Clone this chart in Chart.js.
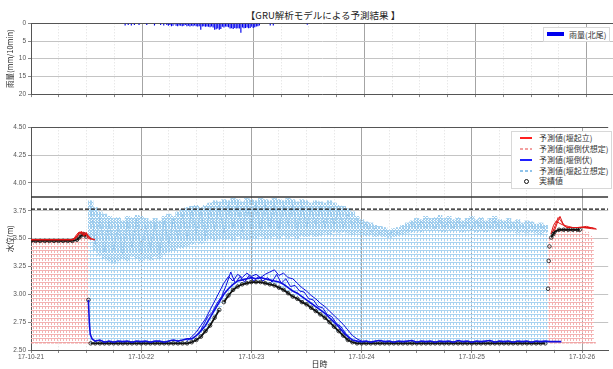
<!DOCTYPE html>
<html>
<head>
<meta charset="utf-8">
<script src="https://cdn.jsdelivr.net/npm/chart.js"></script>
<style>
  html, body { margin: 0; padding: 0; background: #fff; width: 613px; height: 369px; overflow: hidden; }
  canvas { position: absolute; left: 0; }
  #title { position: absolute; left: 223px; width: 200px; top: 8px; text-align: center;
           font: 9.5px 'Noto Sans CJK JP', sans-serif; color: #222; white-space: nowrap; }
  .legend { position: absolute; background: #fff; border: 1px solid #d8d8d8; z-index: 2;
            font: 8px 'Noto Sans CJK JP', sans-serif; color: #333; }
  .legend div { position: absolute; white-space: nowrap; }
  .sw { height: 1.5px; width: 12px; }
</style>
</head>
<body>
<div id="title">【GRU解析モデルによる予測結果 】</div>
<canvas id="rain" width="613" height="100" style="top:0;width:613px;height:100px"></canvas>
<canvas id="level" width="613" height="259" style="top:110px;width:613px;height:259px"></canvas>

<div class="legend" style="left:543px;top:27px;width:65px;height:13px">
  <div style="left:3px;top:4px;width:17px;height:4px;background:#0000ee"></div>
  <div style="left:25px;top:0px;line-height:13px">雨量(北尾)</div>
</div>
<div class="legend" style="left:511px;top:131px;width:99px;height:56px">
  <div class="sw" style="left:8px;top:5px;background:#ff2020"></div>
  <div style="left:27px;top:0px;line-height:11px">予測値(堰起立)</div>
  <div class="sw" style="left:8px;top:16px;background:repeating-linear-gradient(90deg,#f3a0a0 0 3px,transparent 3px 5px)"></div>
  <div style="left:27px;top:11px;line-height:11px">予測値(堰倒伏想定)</div>
  <div class="sw" style="left:8px;top:27px;background:#2020ff"></div>
  <div style="left:27px;top:22px;line-height:11px">予測値(堰倒伏)</div>
  <div class="sw" style="left:8px;top:38px;background:repeating-linear-gradient(90deg,#8fc3ea 0 3px,transparent 3px 5px)"></div>
  <div style="left:27px;top:33px;line-height:11px">予測値(堰起立想定)</div>
  <div style="left:12px;top:47px;width:3px;height:3px;border:1px solid #111;border-radius:50%"></div>
  <div style="left:27px;top:43px;line-height:11px">実績値</div>
</div>

<script>
// time axis in hours from 17-10-21 00:00
const xMax = 125.7;
const dayLabels = ["17-10-21", "17-10-22", "17-10-23", "17-10-24", "17-10-25", "17-10-26"];
const hourTicks = [0, 6, 12, 18, 24, 30, 36, 42, 48, 54, 60, 66, 72, 78, 84, 90, 96, 102, 108, 114, 120];
const levelTicks = [2.5, 2.75, 3.0, 3.25, 3.5, 3.75, 4.0, 4.25, 4.5];
const rainTicks = [0, 5, 10, 15, 20];

// rainfall (mm/10min), 北尾
const rainTime = [
  20.33, 21.0, 21.67, 22.33, 23.33, 25.0, 26.67, 28.0, 28.67, 29.33,
  29.67, 30.0, 30.33, 30.67, 31.0, 31.33, 31.67, 32.0, 32.33, 32.67,
  33.0, 33.33, 33.67, 34.0, 34.33, 34.67, 35.0, 35.33, 35.67, 36.0,
  36.33, 36.67, 37.0, 37.33, 37.67, 38.0, 38.33, 38.67, 39.0, 39.33,
  39.67, 40.0, 40.33, 40.67, 41.0, 41.33, 41.67, 42.0, 42.33, 42.67,
  43.0, 43.33, 43.67, 44.0, 44.33, 44.67, 45.0, 45.33, 45.67, 46.0,
  46.33, 46.67, 47.0, 47.33, 47.67, 48.0, 48.33, 48.67, 49.0, 49.33,
  51.67, 52.33, 59.67
];
const rainValue = [
  0.6, 0.5, 0.6, 0.5, 0.5, 0.5, 0.6, 0.5, 0.6, 0.5,
  0.7, 0.5, 0.8, 0.7, 0.3, 0.7, 0.8, 0.6, 0.7, 0.8,
  0.7, 0.5, 0.8, 0.7, 0.9, 0.7, 0.8, 0.6, 0.8, 0.9,
  0.8, 1.8, 0.9, 0.8, 1.0, 0.9, 1.0, 1.1, 0.9, 1.2,
  1.8, 1.7, 1.5, 1.8, 1.6, 1.0, 1.2, 0.9, 1.0, 1.1,
  1.5, 1.4, 1.6, 1.3, 1.5, 1.4, 1.5, 2.7, 1.2, 1.4,
  1.3, 1.2, 1.4, 1.3, 1.0, 1.3, 1.1, 0.9, 0.8, 0.6,
  0.6, 0.6, 0.4
];

// observed water level (m)
const obsTime = [
  0, 1, 2, 3, 4, 5, 6, 7, 8, 9, 10, 10.5, 11, 11.5, 12, 12.5,
  13, 14, 15, 16, 17, 18, 19, 20, 21, 22, 23, 24, 25, 26, 27, 28, 29, 30, 31, 32, 33, 34,
  35, 36, 37, 38, 39, 40, 41, 42, 43, 44, 45, 46, 47, 48, 49, 50, 51, 52,
  53, 54, 55, 56, 57, 58, 59, 60, 61, 62, 63, 64, 65, 66, 67, 68, 69, 70,
  71, 72, 73, 74, 75, 76, 77, 78, 79, 80, 81, 82, 83, 84, 85, 86, 87, 88, 89, 90, 91,
  92, 93, 94, 95, 96, 97, 98, 99, 100, 101, 102, 103, 104, 105, 106, 107, 108, 109, 110, 111, 112,
  112.6, 112.75, 112.9, 113.3, 113.7, 114, 115, 116, 117, 118, 119, 119.5
];
const obsLevel = [
  3.48, 3.48, 3.48, 3.48, 3.48, 3.48, 3.48, 3.48, 3.48, 3.48, 3.49, 3.51, 3.53, 3.54, 3.52, 2.95,
  2.56, 2.56, 2.56, 2.56, 2.56, 2.56, 2.56, 2.56, 2.56, 2.56, 2.56, 2.56, 2.56, 2.56, 2.56, 2.56, 2.56, 2.56, 2.56, 2.56, 2.56, 2.56,
  2.57, 2.59, 2.62, 2.67, 2.72, 2.79, 2.86, 2.93, 2.99, 3.04, 3.07, 3.09, 3.10, 3.11, 3.11, 3.11, 3.10, 3.09,
  3.08, 3.06, 3.04, 3.01, 2.98, 2.96, 2.93, 2.91, 2.88, 2.85, 2.82, 2.79, 2.75, 2.71, 2.67, 2.63, 2.59, 2.57,
  2.56, 2.56, 2.56, 2.56, 2.56, 2.56, 2.56, 2.56, 2.56, 2.56, 2.56, 2.56, 2.56, 2.56, 2.56, 2.56, 2.56, 2.56, 2.56, 2.56, 2.56,
  2.56, 2.56, 2.56, 2.56, 2.56, 2.56, 2.56, 2.56, 2.56, 2.56, 2.56, 2.56, 2.56, 2.56, 2.56, 2.56, 2.56, 2.56, 2.56, 2.56, 2.56,
  3.05, 3.30, 3.43, 3.51, 3.54, 3.56, 3.58, 3.58, 3.58, 3.58, 3.58, 3.58
];

// forecast, weir standing (red)
const redATime = [0, 1, 2, 3, 4, 5, 6, 7, 8, 9, 9.5, 10, 10.5, 11, 11.5, 12, 12.5, 13, 13.9];
const redALevel = [3.49, 3.49, 3.49, 3.49, 3.49, 3.49, 3.49, 3.49, 3.49, 3.49, 3.50, 3.52, 3.55, 3.56, 3.53, 3.55, 3.52, 3.50, 3.49];
const redBTime = [9, 9.5, 10, 10.5, 11, 11.5, 12, 12.5, 13.2];
const redBLevel = [3.49, 3.51, 3.54, 3.56, 3.54, 3.56, 3.53, 3.50, 3.495];
const redCTime = [113.2, 113.8, 114.4, 115, 116, 117, 118, 120, 122, 123];
const redCLevel = [3.54, 3.62, 3.66, 3.64, 3.62, 3.61, 3.60, 3.60, 3.60, 3.59];
const redDTime = [113.6, 114.2, 114.8, 115.4, 116.2, 117, 119, 121, 122.6];
const redDLevel = [3.56, 3.62, 3.69, 3.66, 3.61, 3.60, 3.60, 3.61, 3.59];
const redETime = [114, 114.6, 115.2, 115.8, 116.6, 118, 120, 122, 123.2];
const redELevel = [3.57, 3.64, 3.70, 3.64, 3.60, 3.60, 3.60, 3.59, 3.585];

// forecast, weir down (blue)
const blueTime = [
  12.5, 12.7, 12.9, 13.3,
  14, 15, 16, 17, 18, 19, 20, 21, 22, 23, 24, 25, 26, 27, 28, 29, 30, 31, 32, 33, 34,
  35, 36, 37, 38, 39, 40, 41, 42, 43, 44, 45, 46, 47, 48, 49, 50, 51, 52,
  53, 54, 55, 56, 57, 58, 59, 60, 61, 62, 63, 64, 65, 66, 67, 68, 69, 70,
  71, 72, 73, 74, 75, 76, 77, 78, 79, 80, 81, 82, 83, 84, 85, 86, 87, 88, 89, 90,
  91, 92, 93, 94, 95, 96, 97, 98, 99, 100, 101, 102, 103, 104, 105, 106, 107, 108, 109, 110,
  111, 112, 113, 114, 115.5
];
const blueLevel = [
  2.95, 2.75, 2.64, 2.60,
  2.58, 2.59, 2.57, 2.58, 2.57, 2.58, 2.575, 2.58, 2.57, 2.58, 2.575, 2.58, 2.57, 2.58, 2.58, 2.57, 2.58, 2.59, 2.58, 2.59, 2.60,
  2.60, 2.63, 2.67, 2.72, 2.79, 2.86, 2.93, 3.00, 3.05, 3.09, 3.12, 3.13, 3.14, 3.15, 3.14, 3.15, 3.14, 3.13,
  3.12, 3.11, 3.09, 3.06, 3.03, 3.01, 2.98, 2.95, 2.92, 2.89, 2.86, 2.83, 2.79, 2.75, 2.71, 2.66, 2.62, 2.59,
  2.58, 2.575, 2.58, 2.57, 2.58, 2.585, 2.575, 2.58, 2.57, 2.58, 2.575, 2.58, 2.585, 2.57, 2.58, 2.575, 2.58, 2.57, 2.58, 2.575,
  2.58, 2.57, 2.585, 2.575, 2.58, 2.57, 2.58, 2.575, 2.58, 2.585, 2.57, 2.58, 2.575, 2.58, 2.57, 2.58, 2.575, 2.58, 2.57, 2.58,
  2.575, 2.58, 2.575, 2.575, 2.575
];
const blueBTime = [34, 35, 36, 37, 38, 39, 40, 41, 42, 43, 44, 45, 46, 47, 48, 49, 50, 51, 52, 53,
  54, 55, 56, 57, 58, 59, 60, 61, 62, 63, 64, 65, 66, 67, 68, 69, 70, 71, 72];
const blueBLevel = [2.58, 2.62, 2.66, 2.72, 2.78, 2.86, 2.94, 3.02, 3.10, 3.16, 3.12, 3.18, 3.15, 3.19, 3.16, 3.18, 3.15, 3.18, 3.20, 3.22,
  3.17, 3.19, 3.15, 3.14, 3.10, 3.06, 3.03, 2.99, 2.96, 2.92, 2.89, 2.85, 2.81, 2.77, 2.73, 2.68, 2.63, 2.60, 2.58];
const blueCTime = [36.5, 37.5, 38.5, 39.5, 40.5, 41.5, 42.5, 43.5, 44.5, 45.5, 46.5, 47.5, 48.5, 49.5, 50.5, 51.5, 52.5,
  53.5, 54.5, 55.5, 56.5, 57.5, 58.5, 59.5, 60.5, 61.5, 62.5, 63.5, 64.5, 65.5, 66.5, 67.5, 68.5, 69.5];
const blueCLevel = [2.64, 2.72, 2.80, 2.84, 2.92, 2.98, 3.08, 3.20, 3.10, 3.16, 3.11, 3.17, 3.12, 3.16, 3.12, 3.15, 3.11,
  3.18, 3.10, 3.14, 3.07, 3.08, 3.03, 3.02, 2.96, 2.95, 2.89, 2.88, 2.82, 2.80, 2.74, 2.71, 2.65, 2.61];

// forecast assuming weir down, while weir stands (pink band)
const pinkTime = [0, 1, 2, 3, 4, 5, 6, 7, 8, 9, 10, 11, 12, 113, 114, 115, 116, 117, 118, 119, 120, 121, 122];
const pinkTop = [3.48, 3.48, 3.48, 3.48, 3.48, 3.48, 3.48, 3.48, 3.48, 3.48, 3.49, 3.51, 3.52,
  3.50, 3.56, 3.58, 3.58, 3.58, 3.58, 3.58, 3.57, 3.56, 3.52];
const pinkFloor = 2.565;
const pinkBaseTime = [0, 13, 13, 113, 123];
const pinkBaseLevel = [2.565, 2.565, null, 2.565, 2.565];

// forecast assuming weir standing, while weir is down (light blue band)
const upTime = [13, 14, 15, 16, 17, 18, 19, 20, 21, 22, 23, 24, 25, 26, 27, 28, 29, 30, 31, 32,
  33, 34, 35, 36, 37, 38, 39, 40, 41, 42, 43, 44, 45, 46, 47, 48, 49, 50, 51, 52,
  53, 54, 55, 56, 57, 58, 59, 60, 61, 62, 63, 64, 65, 66, 67, 68, 69, 70, 71, 72,
  73, 74, 75, 76, 77, 78, 79, 80, 81, 82, 83, 84, 85, 86, 87, 88, 89, 90, 91, 92,
  93, 94, 95, 96, 97, 98, 99, 100, 101, 102, 103, 104, 105, 106, 107, 108, 109, 110, 111, 112];
const upTop = [3.84, 3.78, 3.74, 3.72, 3.70, 3.68, 3.69, 3.66, 3.70, 3.69, 3.71, 3.70, 3.68, 3.66, 3.68, 3.66, 3.70, 3.72, 3.70, 3.74,
  3.76, 3.78, 3.79, 3.80, 3.78, 3.80, 3.82, 3.84, 3.83, 3.85, 3.84, 3.86, 3.85, 3.83, 3.86, 3.85, 3.84, 3.86, 3.85, 3.84,
  3.86, 3.85, 3.84, 3.86, 3.85, 3.83, 3.85, 3.84, 3.82, 3.84, 3.83, 3.82, 3.84, 3.82, 3.80, 3.79, 3.77, 3.74, 3.70, 3.67,
  3.65, 3.64, 3.62, 3.61, 3.60, 3.58, 3.59, 3.60, 3.62, 3.64, 3.66, 3.68, 3.67, 3.70, 3.68, 3.69, 3.71, 3.68, 3.70, 3.67,
  3.69, 3.66, 3.68, 3.70, 3.67, 3.69, 3.66, 3.68, 3.70, 3.67, 3.66, 3.68, 3.65, 3.67, 3.64, 3.66, 3.65, 3.63, 3.64, 3.62];
const upLow = [3.50, 3.40, 3.35, 3.32, 3.30, 3.28, 3.30, 3.32, 3.30, 3.34, 3.32, 3.30, 3.33, 3.31, 3.34, 3.32, 3.36, 3.38, 3.40, 3.42,
  3.42, 3.44, 3.45, 3.48, 3.46, 3.48, 3.50, 3.48, 3.50, 3.49, 3.50, 3.48, 3.52, 3.50, 3.49, 3.51, 3.50, 3.52, 3.50, 3.51,
  3.52, 3.50, 3.53, 3.51, 3.52, 3.50, 3.53, 3.52, 3.54, 3.52, 3.53, 3.55, 3.54, 3.56, 3.55, 3.56, 3.55, 3.54, 3.55, 3.54,
  3.53, 3.54, 3.52, 3.53, 3.52, 3.51, 3.52, 3.53, 3.54, 3.55, 3.56, 3.57, 3.56, 3.58, 3.57, 3.58, 3.57, 3.56, 3.58, 3.57,
  3.58, 3.56, 3.57, 3.58, 3.56, 3.57, 3.56, 3.58, 3.57, 3.56, 3.57, 3.56, 3.57, 3.55, 3.56, 3.55, 3.56, 3.55, 3.54, 3.56];
const upNoise = [3.80, 3.45, 3.70, 3.38, 3.66, 3.40, 3.62, 3.36, 3.66, 3.42, 3.68, 3.38, 3.62, 3.40, 3.64, 3.36, 3.66, 3.45, 3.68, 3.50,
  3.72, 3.50, 3.75, 3.55, 3.74, 3.52, 3.78, 3.58, 3.80, 3.55, 3.81, 3.60, 3.82, 3.56, 3.80, 3.62, 3.82, 3.58, 3.81, 3.60,
  3.82, 3.58, 3.80, 3.62, 3.81, 3.57, 3.80, 3.60, 3.78, 3.62, 3.79, 3.60, 3.78, 3.62, 3.76, 3.60, 3.72, 3.62, 3.68, 3.60,
  3.63, 3.56, 3.60, 3.55, 3.58, 3.54, 3.57, 3.55, 3.59, 3.57, 3.64, 3.58, 3.66, 3.60, 3.65, 3.59, 3.67, 3.60, 3.66, 3.59,
  3.66, 3.60, 3.65, 3.59, 3.66, 3.60, 3.64, 3.59, 3.66, 3.60, 3.64, 3.59, 3.63, 3.58, 3.62, 3.58, 3.62, 3.57, 3.61, 3.58];

// reference levels
const refEnds = [0, xMax];
const solidLevel = 3.875;
const dashLevel = 3.765;

Chart.defaults.font.family = "'Liberation Sans', 'Noto Sans CJK JP', sans-serif";
Chart.defaults.animation = false;

const pts = (xs, ys) => xs.map((x, i) => ({ x, y: ys[i] }));
const isDay = (c) => c.tick && c.tick.value % 24 === 0;

function xAxis(showLabels) {
  return {
    type: "linear", min: 0, max: xMax, offset: false,
    afterBuildTicks: (s) => { s.ticks = hourTicks.map((v) => ({ value: v })); },
    afterFit: (s) => { s.height = showLabels ? 19 : 2.3; },
    grid: { offset: false, color: (c) => (isDay(c) ? "#a4a4a4" : "#dedede"), tickLength: 3, tickColor: "#888" },
    border: { color: "#555", dash: (c) => (c.tick && !isDay(c) ? [1, 2] : []) },
    ticks: {
      display: showLabels, autoSkip: false, maxRotation: 0, padding: 0, color: "#555", font: { size: 6.5 },
      callback: (v) => (v % 24 === 0 ? dayLabels[v / 24] : ""),
    },
    title: { display: showLabels, text: "日時", padding: 0, color: "#222",
             font: { size: 8, family: "'Noto Sans CJK JP', sans-serif" } },
  };
}

function yTitle(text) {
  return { display: true, text, padding: { top: 6, bottom: 0 }, color: "#222",
           font: { size: 7.5, family: "'Noto Sans CJK JP', sans-serif" } };
}

const baseOpts = {
  responsive: false, devicePixelRatio: 1, events: [],
  plugins: { legend: { display: false }, tooltip: { enabled: false } },
};

// rainfall panel
new Chart(document.getElementById("rain"), {
  type: "line",
  data: {
    datasets: [{
      type: "bar", data: pts(rainTime, rainValue), backgroundColor: "#0000ee",
      barPercentage: 0.75, categoryPercentage: 1, grouped: false,
    }],
  },
  options: {
    ...baseOpts,
    layout: { padding: { top: 23.3, left: 0, right: 0, bottom: 0 } },
    scales: {
      x: xAxis(false),
      y: {
        min: 0, max: 20, reverse: true,
        afterBuildTicks: (s) => { s.ticks = rainTicks.map((v) => ({ value: v })); },
        afterFit: (s) => { s.width = 31; },
        grid: { color: (c) => (c.tick && c.tick.value === 0 ? "#555" : "#c4c4c4"), tickLength: 3, tickColor: "#888" },
        border: { color: "#555" },
        ticks: { padding: 2, color: "#555", font: { size: 6.5 } },
        title: yTitle("雨量(mm/10min)"),
      },
    },
  },
});

// water level panel
const levelCanvas = document.getElementById("level");
const lctx = levelCanvas.getContext("2d");
function hatch(color, w, h, rects) {
  const c = document.createElement("canvas");
  c.width = w; c.height = h;
  const g = c.getContext("2d");
  g.fillStyle = color;
  rects.forEach((r) => g.fillRect(r[0], r[1], r[2], r[3]));
  return lctx.createPattern(c, "repeat");
}
const pinkHatch = hatch("#f3b2b2", 3, 4, [[0, 0, 1, 3], [1, 0, 2, 1]]);
const blueHatch = hatch("#a9d3f0", 3, 4, [[0, 0, 1, 3], [1, 0, 2, 1]]);
const blueDense = hatch("#a0ceee", 3, 3, [[0, 0, 1, 2], [1, 1, 1, 1], [2, 2, 1, 1], [1, 0, 1, 1]]);

const lowAtObs = upTime.map((h) => obsLevel[obsTime.indexOf(h)]);
const line = (xs, ys, color, extra) => Object.assign({
  type: "line", data: pts(xs, ys), borderColor: color, borderWidth: 1,
  pointRadius: 0, tension: 0, spanGaps: false, fill: false,
}, extra || {});
const bars = (xs, lo, hi, fill, order) => ({
  type: "bar", order, data: xs.map((x, i) => ({ x, y: [lo[i], hi[i]] })),
  backgroundColor: fill, borderWidth: 0, barPercentage: 1, categoryPercentage: 1, grouped: false,
});
// no connecting stroke across the jumps of the observed record
const jumpGap = (c) => (Math.abs(c.p1.parsed.y - c.p0.parsed.y) > 0.07 ? "rgba(0,0,0,0)" : undefined);

new Chart(levelCanvas, {
  type: "line",
  data: {
    datasets: [
      line(refEnds, [solidLevel, solidLevel], "#333", { borderWidth: 1.5, order: 0 }),
      line(refEnds, [dashLevel, dashLevel], "#111", { borderWidth: 1.2, borderDash: [4, 2], order: 0 }),
      line(redATime, redALevel, "#e01515", { order: 1, borderWidth: 1.6 }),
      line(redBTime, redBLevel, "#e01515", { order: 1 }),
      line(redCTime, redCLevel, "#e01515", { order: 1 }),
      line(redDTime, redDLevel, "#e01515", { order: 1 }),
      line(redETime, redELevel, "#e01515", { order: 1 }),
      line(blueTime, blueLevel, "#1010e0", { order: 2, borderWidth: 1.6 }),
      line(blueBTime, blueBLevel, "#1010e0", { order: 2 }),
      line(blueCTime, blueCLevel, "#1010e0", { order: 2 }),
      line(obsTime, obsLevel, "#111", {
        borderWidth: 1.8, segment: { borderColor: jumpGap },
        pointRadius: 1.8, pointBorderWidth: 0.8,
        pointBorderColor: "#111", pointBackgroundColor: "rgba(255,255,255,0)", order: 3,
      }),
      line(upTime, upNoise, "#8fc3ea", { borderDash: [2, 1], order: 4 }),
      line(pinkBaseTime, pinkBaseLevel, "#f0a4a4", { borderWidth: 1.5, borderDash: [3, 1], order: 5 }),
      bars(upTime, upLow, upTop, blueDense, 6),
      bars(upTime, lowAtObs, upTop, blueHatch, 7),
      bars(pinkTime, pinkTime.map(() => pinkFloor), pinkTop, pinkHatch, 7),
    ],
  },
  options: {
    ...baseOpts,
    layout: { padding: { top: 17.3, left: 0, right: 0, bottom: 0 } },
    scales: {
      x: xAxis(true),
      y: {
        min: 2.5, max: 4.5,
        afterBuildTicks: (s) => { s.ticks = levelTicks.map((v) => ({ value: v })); },
        afterFit: (s) => { s.width = 31; },
        grid: { color: (c) => (c.tick && c.tick.value === 4.5 ? "#555" : "#c4c4c4"), tickLength: 3, tickColor: "#888" },
        border: { color: "#555" },
        ticks: { padding: 2, color: "#555", font: { size: 6.5 }, callback: (v) => v.toFixed(2) },
        title: yTitle("水位(m)"),
      },
    },
  },
});
</script>
</body>
</html>
